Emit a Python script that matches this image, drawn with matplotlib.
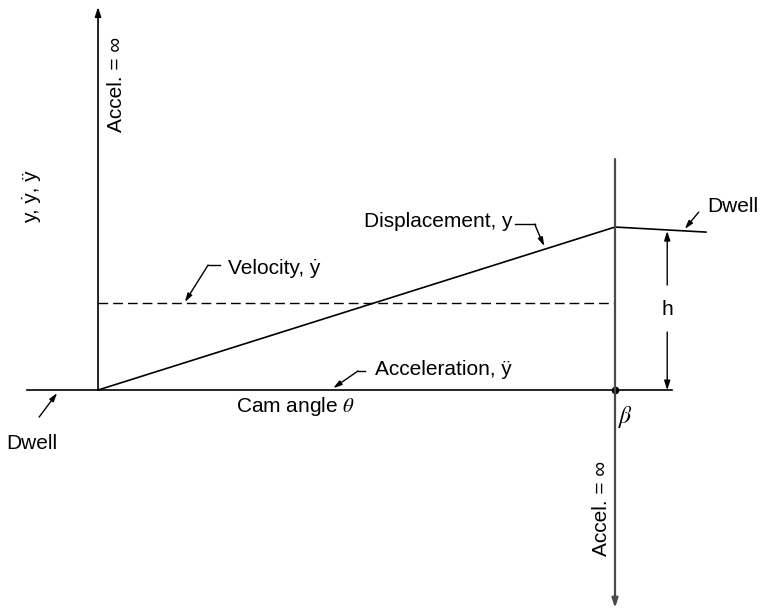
import matplotlib
matplotlib.use("Agg")
import matplotlib.pyplot as plt

plt.rcParams['font.family'] = ['Liberation Sans', 'DejaVu Sans']
plt.rcParams['mathtext.fontset'] = 'stix'

# cam angle in units of beta, follower lift in units of h
theta_rise = [0.0, 1.0]
y_rise = [0.0, 1.0]
theta_dwell = [1.0, 1.176]
y_dwell = [1.0, 0.969]
theta_vel = [0.0, 1.0]
y_vel = [0.534, 0.534]
theta_base = [-0.137, 1.110]
y_acc = [0.0, 0.0]
accel_top = 2.35      # infinite accel spike at start of rise
accel_bot = -1.337    # infinite decel spike at end of rise
beta_line_top = 1.417

fig = plt.figure(figsize=(7.61, 6.13), dpi=100)
ax = fig.add_axes([0, 0, 1, 1])
ax.set_xlim(-0.1896, 1.2824)
ax.set_ylim(-1.368, 2.393)
ax.axis('off')

fs = 15
k = 'black'

# baseline / acceleration
ax.plot(theta_base, y_acc, color=k, lw=1.2)
# displacement and dwell
ax.plot(theta_rise, y_rise, color=k, lw=1.2)
ax.plot(theta_dwell, y_dwell, color=k, lw=1.2)
# velocity
ax.plot(theta_vel, y_vel, color=k, lw=1.0, dashes=(7, 3.6))

# vertical spikes
arr = dict(arrowstyle='-|>,head_length=0.55,head_width=0.18', color=k, lw=1.2,
           shrinkA=0, shrinkB=0)
ax.annotate('', xy=(0, accel_top), xytext=(0, 0), arrowprops=arr)
arr_g = dict(arr, color='#4a4a4a', lw=1.6)
ax.annotate('', xy=(1, accel_bot), xytext=(1, beta_line_top), arrowprops=arr_g)
ax.plot([1], [0], 'o', color=k, ms=4.5)

# h dimension
ax.annotate('', xy=(1.101, 0.975), xytext=(1.101, 0.644), arrowprops=dict(arr, lw=1.0))
ax.annotate('', xy=(1.101, 0.0), xytext=(1.101, 0.356), arrowprops=dict(arr, lw=1.0))
ax.text(1.101, 0.497, 'h', fontsize=fs, ha='center', va='center')

lead = dict(arrowstyle='-|>,head_length=0.5,head_width=0.15', color=k, lw=1.0,
            shrinkA=0, shrinkB=0)

# displacement label
ax.text(0.801, 1.031, 'Displacement, y', fontsize=fs, ha='right', va='center')
ax.plot([0.807, 0.845], [1.018, 1.018], color=k, lw=1.0)
ax.annotate('', xy=(0.863, 0.883), xytext=(0.845, 1.018),
            arrowprops=dict(lead, connectionstyle='angle3,angleA=0,angleB=-66'))

# velocity label
ax.text(0.251, 0.748, 'Velocity, \u1e8f', fontsize=fs, ha='left', va='center')
ax.plot([0.213, 0.236], [0.767, 0.767], color=k, lw=1.0)
ax.annotate('', xy=(0.168, 0.540), xytext=(0.213, 0.767), arrowprops=lead)

# acceleration label
ax.text(0.536, 0.123, 'Acceleration, \u00ff', fontsize=fs, ha='left', va='center')
ax.plot([0.503, 0.516], [0.117, 0.117], color=k, lw=1.0)
ax.annotate('', xy=(0.455, 0.012), xytext=(0.503, 0.117), arrowprops=lead)

# dwell labels
ax.text(1.178, 1.129, 'Dwell', fontsize=fs, ha='left', va='center')
ax.annotate('', xy=(1.135, 0.988), xytext=(1.162, 1.092), arrowprops=lead)
ax.text(-0.178, -0.325, 'Dwell', fontsize=fs, ha='left', va='center')
ax.annotate('', xy=(-0.079, -0.018), xytext=(-0.114, -0.166), arrowprops=lead)

# axis labels
ax.text(0.383, -0.104, r'Cam angle $\theta$', fontsize=fs, ha='center', va='center')
ax.text(1.021, -0.166, r'$\beta$', fontsize=fs + 2, ha='center', va='center')
ax.text(-0.128, 1.184, 'y, \u1e8f, \u00ff', fontsize=fs, rotation=90,
        ha='center', va='center')
ax.text(0.035, 1.877, 'Accel. = \u221e', fontsize=fs, rotation=90,
        ha='center', va='center')
ax.text(0.973, -0.724, 'Accel. = \u221e', fontsize=fs, rotation=90,
        ha='center', va='center')

fig.savefig('out.png', dpi=100)
